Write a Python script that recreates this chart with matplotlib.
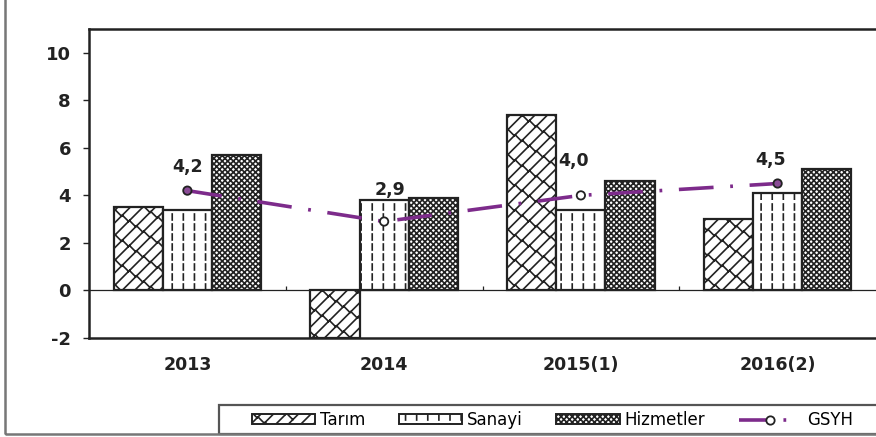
import numpy as np
import matplotlib
matplotlib.use("Agg")
import matplotlib.pyplot as plt
from matplotlib import hatch as mhatch
from matplotlib.path import Path
from matplotlib.lines import Line2D
from matplotlib.patches import Patch, Rectangle

# data
years = ["2013", "2014", "2015(1)", "2016(2)"]
tarim = [3.5, -2.0, 7.4, 3.0]
sanayi = [3.4, 3.8, 3.4, 4.1]
hizmetler = [5.7, 3.9, 4.6, 5.1]
gsyh = [4.2, 2.9, 4.0, 4.5]
gsyh_labels = ["4,2", "2,9", "4,0", "4,5"]
yticks = [-2, 0, 2, 4, 6, 8, 10]

# label offsets (points) as placed in the original, marker fills
label_dx = [0, 4, -5, -5]
label_dy = [17, 23, 25, 17]
marker_fill = ["#8a4b96", "white", "white", "#8a4b96"]


# Excel-like hatches: '|' -> dashed verticals, '/' -> diagonal brick zigzag
class DashedVertical(mhatch.HatchPatternBase):
    def __init__(self, hatch, density):
        self.num_lines = hatch.count("|") * 9
        self.n_dash = 10
        self.num_vertices = self.num_lines * self.n_dash * 2

    def set_vertices_and_codes(self, vertices, codes):
        xs = (np.arange(self.num_lines) + 0.5) / self.num_lines
        ys = np.arange(self.n_dash) / self.n_dash
        xx, yy = np.meshgrid(xs, ys, indexing="ij")
        vertices[0::2, 0] = xx.ravel()
        vertices[0::2, 1] = yy.ravel()
        vertices[1::2, 0] = xx.ravel()
        vertices[1::2, 1] = yy.ravel() + 0.6 / self.n_dash
        codes[0::2] = Path.MOVETO
        codes[1::2] = Path.LINETO


class BrickDiagonal(mhatch.HatchPatternBase):
    def __init__(self, hatch, density):
        self.n = 8 if "/" in hatch else 0
        self.m = 7
        n_lines = 2 * self.n + 1 if self.n else 0
        self.num_vertices = (n_lines + n_lines * self.m) * 2

    def set_vertices_and_codes(self, vertices, codes):
        n, m = self.n, self.m
        segs = []
        for i in range(-n, n + 1):
            c = i / n
            segs.append(((0.0, c), (1.0, 1.0 + c)))
            for j in range(m):
                x0 = (j + 0.5 * (i % 2)) / m
                segs.append(((x0, x0 + c), (x0 - 0.5 / n, x0 + c + 0.5 / n)))
        segs = np.array(segs)
        vertices[0::2] = segs[:, 0]
        vertices[1::2] = segs[:, 1]
        codes[0::2] = Path.MOVETO
        codes[1::2] = Path.LINETO


class DiagonalX(mhatch.NorthEastHatch):
    def __init__(self, hatch, density):
        self.num_lines = int((hatch.count("x") + hatch.count("X")) * density)
        self.num_vertices = (self.num_lines + 1) * 2 if self.num_lines else 0


mhatch._hatch_types = [t for t in mhatch._hatch_types
                       if t not in (mhatch.VerticalHatch, mhatch.NorthEastHatch)]
mhatch._hatch_types += [DashedVertical, BrickDiagonal, DiagonalX]

plt.rcParams["font.family"] = "DejaVu Sans"
plt.rcParams["hatch.linewidth"] = 1.2
plt.rcParams["lines.scale_dashes"] = False

purple = "#7d2b8b"
edge = "#222222"

fig = plt.figure(figsize=(8.76, 4.37), dpi=100)
ax = fig.add_axes([89 / 876, 1 - 338 / 437, 1 - 89 / 876, 309 / 437])

x = np.arange(len(years))
w = 0.25
styles = [
    (tarim, "Tarım", "/", -w),
    (sanayi, "Sanayi", "|", 0),
    (hizmetler, "Hizmetler", "xxxxxx", w),
]
handles = []
for vals, name, hatch, off in styles:
    ax.bar(x + off, vals, w, color="white", edgecolor=edge, linewidth=1.6,
           hatch=hatch, zorder=2)
    handles.append(Patch(facecolor="white", edgecolor=edge, hatch=hatch,
                         linewidth=1.4, label=name))

ax.plot(x, gsyh, color=purple, lw=2.6, linestyle=(0, (25, 12, 2, 12)), zorder=4)
ax.scatter(x, gsyh, s=36, c=marker_fill, edgecolors=edge, linewidths=1.3, zorder=5)
handles.append(Line2D([], [], color=purple, lw=2.6, linestyle=(0, (24, 8, 2, 30)),
                      marker="o", ms=6, mfc="white", mec=edge, mew=1.3,
                      markevery=[1], label="GSYH"))

for xi, yi, lab, dx, dy in zip(x, gsyh, gsyh_labels, label_dx, label_dy):
    ax.annotate(lab, (xi, yi), xytext=(dx, dy), textcoords="offset points",
                ha="center", va="center", fontsize=12.5, fontweight="bold",
                color="#222222", zorder=6)

ax.axhline(0, color=edge, lw=0.9, zorder=1)
ax.vlines([0.5, 1.5, 2.5], 0, 0.2, color=edge, lw=0.9)

ax.set_xlim(-0.5, 3.5)
ax.set_ylim(-2, 11)
ax.set_yticks(yticks)
ax.set_yticklabels([str(t) for t in yticks], fontsize=13, fontweight="bold",
                   color="#222222")
ax.set_xticks(x)
ax.set_xticklabels(years, fontsize=12.5, fontweight="bold", color="#222222")
ax.tick_params(axis="x", length=0, pad=13)
ax.tick_params(axis="y", direction="out", length=4, width=1, pad=9, color=edge)

for side in ["left", "top", "bottom"]:
    ax.spines[side].set_linewidth(1.8)
    ax.spines[side].set_color(edge)
ax.spines["right"].set_visible(False)

leg = fig.legend(handles=handles, loc="center left",
                 bbox_to_anchor=(252 / 876, 1 - 420 / 437),
                 ncol=4, fontsize=12, frameon=False,
                 handlelength=3.8, handleheight=0.5, handletextpad=0.3,
                 columnspacing=2.0, borderpad=0, borderaxespad=0)

# legend box and thin grey frame around the whole picture
fig.patches.append(Rectangle((219 / 876, 3 / 437), 0.9, 29 / 437,
                             transform=fig.transFigure, fill=False,
                             edgecolor="#555555", lw=1.6))
fig.patches.append(Rectangle((5 / 876, 3 / 437), 1.2, 1.2, transform=fig.transFigure,
                             fill=False, edgecolor="#777777", lw=1.8))

fig.savefig("out.png", dpi=100)
